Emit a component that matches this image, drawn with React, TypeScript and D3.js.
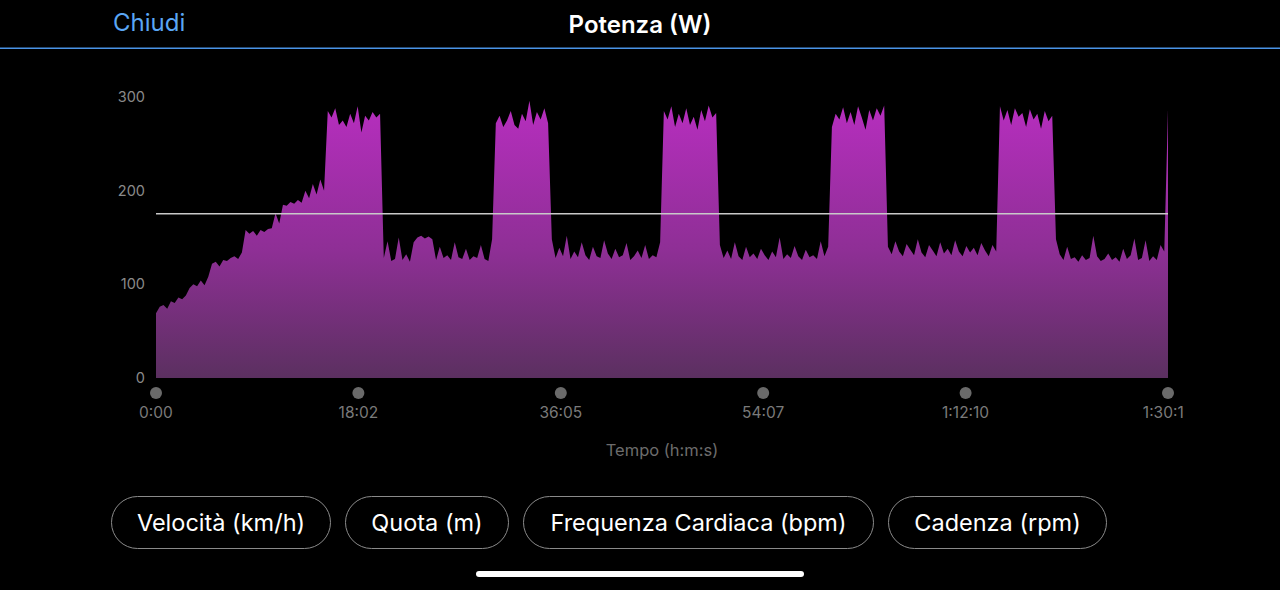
import * as d3 from "d3";

// power samples (W), evenly spaced over the ride
const WARMUP = [
  69, 76, 78, 74, 82, 80, 86, 84, 88, 96, 100, 98, 104, 99, 108, 122, 124, 119,
  126, 125, 128, 130, 127, 134, 158, 154, 157, 152, 158, 156, 159, 160, 176, 165,
  185, 184, 188, 186, 190, 187, 200, 192, 207, 196, 212, 200,
];
const INTERVAL_1 = [285, 278, 288, 270, 275, 268, 282, 272, 290, 262, 280, 275, 284, 278, 282];
const RECOVERY_1A = [128, 146, 125, 127, 150, 126, 132, 124, 145];
const RECOVERY_1_BUMP = [150, 152, 149, 151, 148];
const RECOVERY_1B = [126, 140, 128, 131, 126, 145, 129, 127, 138, 126, 130, 128, 142, 127, 125, 148];
const INTERVAL_2 = [272, 280, 268, 275, 285, 270, 266, 282, 274, 296, 270, 284, 276, 288, 272];
const RECOVERY_2 = [
  148, 128, 139, 130, 152, 127, 135, 129, 145, 131, 126, 140, 130, 128, 147, 133,
  127, 138, 129, 131, 144, 126, 130, 136, 128, 142, 127, 131, 129, 145,
];
const INTERVAL_3 = [285, 276, 290, 268, 282, 272, 288, 270, 279, 265, 286, 274, 291, 278, 283];
const RECOVERY_3 = [
  142, 128, 136, 127, 145, 130, 126, 140, 129, 133, 127, 138, 131, 126, 135, 129,
  150, 127, 132, 128, 141, 130, 126, 137, 129, 131, 127, 146, 130, 140,
];
const INTERVAL_4 = [268, 282, 276, 289, 272, 284, 270, 290, 278, 265, 286, 275, 288, 280, 291];
const RECOVERY_4 = [
  140, 132, 146, 135, 130, 143, 137, 131, 148, 134, 129, 142, 136, 130, 145, 133,
  138, 131, 147, 135, 130, 141, 134, 139, 131, 144, 136, 130, 142, 135,
];
const INTERVAL_5 = [290, 275, 286, 270, 288, 279, 283, 268, 287, 276, 282, 266, 285, 274, 280];
const COOLDOWN = [
  148, 132, 126, 140, 127, 129, 124, 131, 126, 128, 152, 130, 125, 127, 133, 126,
  129, 124, 138, 127, 131, 149, 126, 128, 147, 125, 130, 126, 142, 135, 287,
];

const POWER = [
  ...WARMUP, ...INTERVAL_1, ...RECOVERY_1A, ...RECOVERY_1_BUMP, ...RECOVERY_1B,
  ...INTERVAL_2, ...RECOVERY_2, ...INTERVAL_3, ...RECOVERY_3, ...INTERVAL_4,
  ...RECOVERY_4, ...INTERVAL_5, ...COOLDOWN,
];

const DURATION = 5412.5; // seconds
const Y_TICKS = [0, 100, 200, 300];
const X_TICK_LABELS = ["0:00", "18:02", "36:05", "54:07", "1:12:10", "1:30:12"];
const BUTTONS = ["Velocità (km/h)", "Quota (m)", "Frequenza Cardiaca (bpm)", "Cadenza (rpm)"];

const W = 1280;
const H = 590;
const FONT = "Inter, 'Noto Sans', sans-serif";

const App = () => {
  const x = d3.scaleLinear().domain([0, DURATION]).range([156, 1168]);
  const y = d3.scaleLinear().domain([0, 300]).range([378, 97]);
  const dt = DURATION / (POWER.length - 1);

  const area = d3
    .area<number>()
    .x((_, i) => x(i * dt))
    .y0(y(0))
    .y1((d) => y(d));

  const avg = d3.mean(POWER) ?? 0;
  const xTicks = X_TICK_LABELS.map((_, i) => (i * DURATION) / (X_TICK_LABELS.length - 1));

  // button layout: widths from text, fixed gap
  const btnW = [220, 164, 351, 219];
  let bx = 111;
  const btnX = btnW.map((w) => {
    const cur = bx;
    bx += w + 14;
    return cur;
  });

  return (
    <div
      style={{
        position: "fixed",
        left: 0,
        top: 0,
        width: W,
        height: H,
        background: "#000",
      }}
    >
      <svg width={W} height={H} style={{ display: "block", fontFamily: FONT }}>
        <defs>
          <linearGradient
            id="powerFill"
            gradientUnits="userSpaceOnUse"
            x1={0}
            x2={0}
            y1={y(300)}
            y2={y(0)}
          >
            <stop offset="0%" stopColor="#b82ec0" />
            <stop offset="55%" stopColor="#8e2f95" />
            <stop offset="100%" stopColor="#5b3060" />
          </linearGradient>
          <clipPath id="labelClip">
            <rect x={0} y={0} width={1184} height={H} />
          </clipPath>
        </defs>

        {/* header */}
        <text x={113} y={31} fill="#5aa6f5" fontSize={24}>
          Chiudi
        </text>
        <text x={640} y={33} fill="#fff" fontSize={24} fontWeight={600} textAnchor="middle">
          Potenza (W)
        </text>
        <rect x={0} y={47.5} width={W} height={1.5} fill="#4a93e6" />

        {/* area */}
        <path d={area(POWER) ?? ""} fill="url(#powerFill)" />

        {/* average */}
        <line
          x1={x(0)}
          x2={x(DURATION)}
          y1={y(avg)}
          y2={y(avg)}
          stroke="#c9c9c9"
          strokeWidth={1.5}
        />

        {/* y axis */}
        {Y_TICKS.map((t) => (
          <text
            key={t}
            x={145}
            y={y(t)}
            dy="0.35em"
            fill="#8a8a8a"
            fontSize={14.5}
            textAnchor="end"
          >
            {t}
          </text>
        ))}

        {/* x axis */}
        <g clipPath="url(#labelClip)">
          {xTicks.map((t, i) => (
            <g key={i} transform={`translate(${x(t)},0)`}>
              <circle cy={393} r={6} fill="#6a6a6a" />
              <text y={418} fill="#7a7a7a" fontSize={15.5} textAnchor="middle">
                {X_TICK_LABELS[i]}
              </text>
            </g>
          ))}
        </g>
        <text x={662} y={456} fill="#6c6c6c" fontSize={16.5} textAnchor="middle">
          Tempo (h:m:s)
        </text>

        {/* metric buttons */}
        {BUTTONS.map((b, i) => (
          <g key={b}>
            <rect
              x={btnX[i] + 0.5}
              y={496.5}
              width={btnW[i] - 1}
              height={52}
              rx={26}
              fill="none"
              stroke="#8a8a8a"
              strokeWidth={1}
            />
            <text
              x={btnX[i] + btnW[i] / 2}
              y={531}
              fill="#fff"
              fontSize={23.5}
              textAnchor="middle"
            >
              {b}
            </text>
          </g>
        ))}

        {/* home indicator */}
        <rect x={476} y={571} width={328} height={6} rx={3} fill="#fff" />
      </svg>
    </div>
  );
};

export default App;
